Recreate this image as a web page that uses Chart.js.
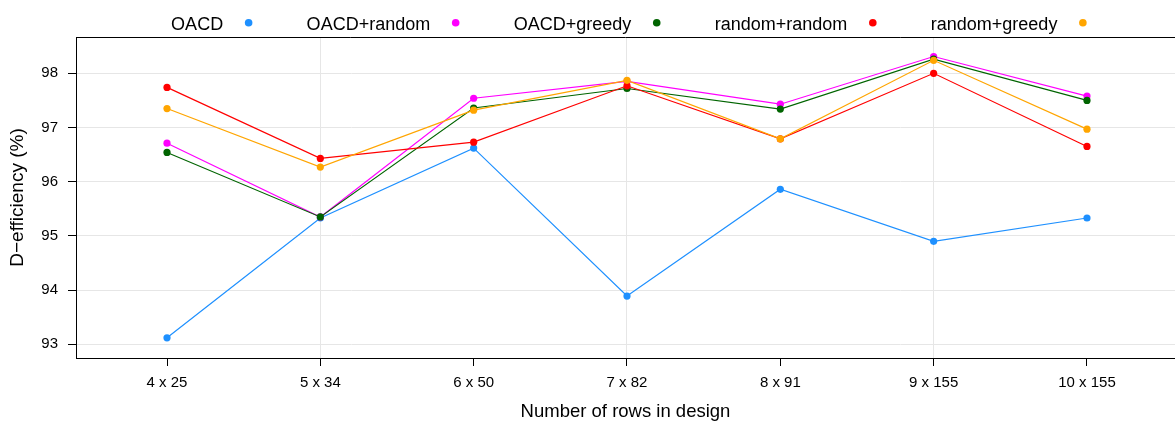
<!DOCTYPE html>
<html>
<head>
<meta charset="utf-8">
<script src="https://cdn.jsdelivr.net/npm/chart.js@4.4.0/dist/chart.umd.min.js"></script>
<style>
html,body{margin:0;padding:0;background:#fff;}
#wrap{width:1175px;height:423px;position:relative;}
</style>
</head>
<body>
<div id="wrap"><canvas id="c" width="1175" height="423"></canvas></div>
<script>
const categories = ['4 x 25', '5 x 34', '6 x 50', '7 x 82', '8 x 91', '9 x 155', '10 x 155'];
const yTicks = [93, 94, 95, 96, 97, 98];
const seriesNames = ['OACD', 'OACD+random', 'OACD+greedy', 'random+random', 'random+greedy'];
const OACD          = [93.12, 95.33, 96.62, 93.89, 95.86, 94.90, 95.33];
const OACD_random   = [96.71, 95.35, 97.54, 97.85, 97.43, 98.31, 97.58];
const OACD_greedy   = [96.54, 95.35, 97.36, 97.72, 97.34, 98.26, 97.50];
const random_random = [97.74, 96.43, 96.73, 97.77, 96.79, 98.00, 96.65];
const random_greedy = [97.35, 96.27, 97.32, 97.87, 96.79, 98.24, 96.97];

const seriesValues = [OACD, OACD_random, OACD_greedy, random_random, random_greedy];
const colors = ['#1E90FF', '#FF00FF', '#006400', '#FF0000', '#FFA500'];
const FONT = '"Liberation Sans", Arial, Helvetica, sans-serif';

const datasets = seriesValues.map((vals, k) => ({
  label: seriesNames[k],
  data: vals.map((v, i) => ({x: i, y: v})),
  borderColor: colors[k],
  backgroundColor: colors[k],
  borderWidth: 1.2,
  pointRadius: 3.6,
  pointBorderWidth: 0,
  pointHoverRadius: 3.6,
  tension: 0,
  order: seriesValues.length - k
}));

const legendPlugin = {
  id: 'customLegend',
  afterDraw(chart) {
    const ctx = chart.ctx;
    const area = chart.chartArea;
    ctx.save();
    ctx.font = '18px ' + FONT;
    const gapDot = 25.5, gapNext = 58;
    const widths = chart.data.datasets.map(d => ctx.measureText(d.label).width);
    let total = 0;
    widths.forEach((w, i) => { total += w + gapDot + (i < widths.length - 1 ? gapNext : 0); });
    let x = (area.left + area.right) / 2 + 1.5 - total / 2;
    chart.data.datasets.forEach((d, i) => {
      ctx.fillStyle = '#000';
      ctx.textAlign = 'left';
      ctx.textBaseline = 'alphabetic';
      ctx.fillText(d.label, x, 29.5);
      const cx = x + widths[i] + gapDot;
      ctx.beginPath();
      ctx.arc(cx, 22.8, 3.8, 0, Math.PI * 2);
      ctx.fillStyle = d.borderColor;
      ctx.fill();
      x = cx + gapNext;
    });
    // top frame line
    ctx.strokeStyle = '#000';
    ctx.lineWidth = 1;
    ctx.beginPath();
    ctx.moveTo(area.left, Math.round(area.top) + 0.5);
    ctx.lineTo(area.right, Math.round(area.top) + 0.5);
    ctx.stroke();
    ctx.restore();
  }
};

new Chart(document.getElementById('c'), {
  type: 'line',
  data: { labels: categories, datasets: datasets },
  options: {
    responsive: false,
    animation: false,
    devicePixelRatio: 1,
    layout: { autoPadding: false, padding: { top: 37, left: 0, right: 0, bottom: 0 } },
    plugins: { legend: { display: false }, tooltip: { enabled: false } },
    scales: {
      x: {
        type: 'linear',
        min: -0.5935,
        max: 6.574,
        afterFit(s) { s.height = 65; },
        afterBuildTicks(s) { s.ticks = categories.map((c, i) => ({value: i})); },
        ticks: {
          callback: (v) => categories[v],
          font: { family: FONT, size: 15 },
          color: '#000',
          padding: 8,
          maxRotation: 0,
          autoSkip: false
        },
        grid: {
          color: (c) => (c.tick && c.tick.value % 2 === 1) ? '#e6e6e6' : 'rgba(0,0,0,0)',
          tickColor: '#000',
          tickLength: 8,
          lineWidth: 1
        },
        border: { display: true, color: '#000', width: 1 },
        title: {
          display: true,
          text: 'Number of rows in design',
          font: { family: FONT, size: 18.5 },
          color: '#000',
          padding: { top: 0, bottom: 0 }
        }
      },
      y: {
        min: 92.747,
        max: 98.67,
        afterFit(s) { s.width = 76; },
        afterBuildTicks(s) { s.ticks = yTicks.map(v => ({value: v})); },
        ticks: {
          font: { family: FONT, size: 15 },
          color: '#000',
          padding: 10
        },
        grid: {
          color: '#e6e6e6',
          tickColor: '#000',
          tickLength: 8,
          lineWidth: 1
        },
        border: { display: true, color: '#000', width: 1 },
        title: {
          display: true,
          text: 'D\u2212efficiency (%)',
          font: { family: FONT, size: 19 },
          color: '#000',
          padding: { top: 6, bottom: 0 }
        }
      }
    }
  },
  plugins: [legendPlugin]
});
</script>
</body>
</html>
